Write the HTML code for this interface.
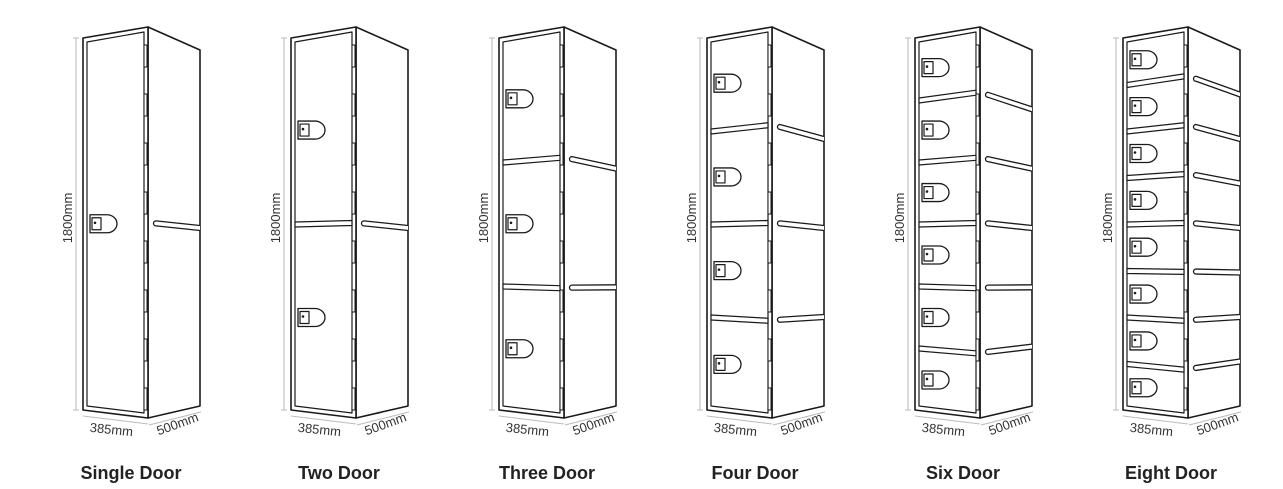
<!DOCTYPE html>
<html><head><style>
html,body{margin:0;padding:0;background:#fff;}
svg{display:block;}
text{font-family:"Liberation Sans",sans-serif;}
</style></head><body>
<svg id="s" width="1283" height="489" viewBox="0 0 1283 489" xmlns="http://www.w3.org/2000/svg"></svg>
<script>
const s=document.getElementById('s');
const cfg=[["Single Door",1],["Two Door",2],["Three Door",3],["Four Door",4],["Six Door",6],["Eight Door",8]];
let h='';
const K='#1a1a1a';
cfg.forEach((c,i)=>{
 const x=83+208*i, R=x+65, S=x+117;
 const fy=t=>[38+t*372,27+t*391]; // front left,right y
 const sy=t=>[27+t*391,50+t*356];
 // dimension lines
 h+=`<g stroke="#bbb" stroke-width="1" fill="none"><line x1="${x-7}" y1="38" x2="${x-7}" y2="410"/><line x1="${x-10}" y1="38" x2="${x-4}" y2="38"/><line x1="${x-10}" y1="410" x2="${x-4}" y2="410"/>
 <line x1="${x}" y1="416" x2="${R}" y2="424"/><line x1="${R+1}" y1="425" x2="${S+1}" y2="412"/></g>`;
 h+=`<text x="${x-15}" y="218" font-size="13" fill="#333" text-anchor="middle" transform="rotate(-90 ${x-15} 218)" dy="4">1800mm</text>`;
 h+=`<text x="${x+28}" y="434" font-size="13" fill="#333" text-anchor="middle" transform="rotate(6 ${x+28} 434)">385mm</text>`;
 h+=`<text x="${x+96}" y="428" font-size="13" fill="#333" text-anchor="middle" transform="rotate(-20 ${x+96} 428)">500mm</text>`;
 h+=`<text x="${x+48}" y="479" font-size="18" font-weight="bold" fill="#222" text-anchor="middle">${c[0]}</text>`;
 // body
 h+=`<g stroke="${K}" stroke-width="1.6" fill="#fff" stroke-linejoin="round">`;
 h+=`<polygon points="${R},27 ${S},50 ${S},406 ${R},418"/>`;
 h+=`<polygon points="${x},38 ${R},27 ${R},418 ${x},410"/>`;
 h+=`<polygon points="${x+4},42 ${R-4},32 ${R-4},413 ${x+4},406" stroke-width="1.2"/>`;
 // hinges
 const n=c[1];
 for(let y=45;y<405;y+=49){h+=`<rect x="${R-4}" y="${y}" width="3" height="22" stroke-width="1"/>`;}
 // dividers
 for(let k=1;k<n;k++){const t=k/n;const [a,b]=fy(t);
  h+=`<polygon points="${x+4},${a-2} ${R-4},${b-2} ${R-4},${b+3} ${x+4},${a+3}" stroke-width="1.2"/>`;}
 // locks
 for(let k=0;k<n;k++){const t=(k+0.5)/n;const [a,b]=fy(t);const y=a+(b-a)*0.15;
  h+=`<path d="M${x+7} ${y-9}H${x+24}A10 9 0 0 1 ${x+24} ${y+9}H${x+7}Z" stroke-width="1.3"/>`;
  h+=`<rect x="${x+9}" y="${y-6}" width="9" height="12" stroke-width="1.2"/><circle cx="${x+12}" cy="${y-1}" r="1.3" fill="${K}" stroke="none"/>`;}
 // side rods
 const m=Math.max(1,n-1);
 for(let k=1;k<=m;k++){const t=n==1?0.5:k/n;const [a,b]=sy(t);
  const x1=R+8,x2=S;const y1=a+(b-a)*8/52;
  h+=`<path d="M${x2} ${b-2.5}L${x1} ${y1-2.5}A2.5 2.5 0 0 0 ${x1} ${y1+2.5}L${x2} ${b+2.5}" stroke-width="1.3"/>`;}
 h+=`</g>`;
});
s.innerHTML=h;
</script>
</body></html>
